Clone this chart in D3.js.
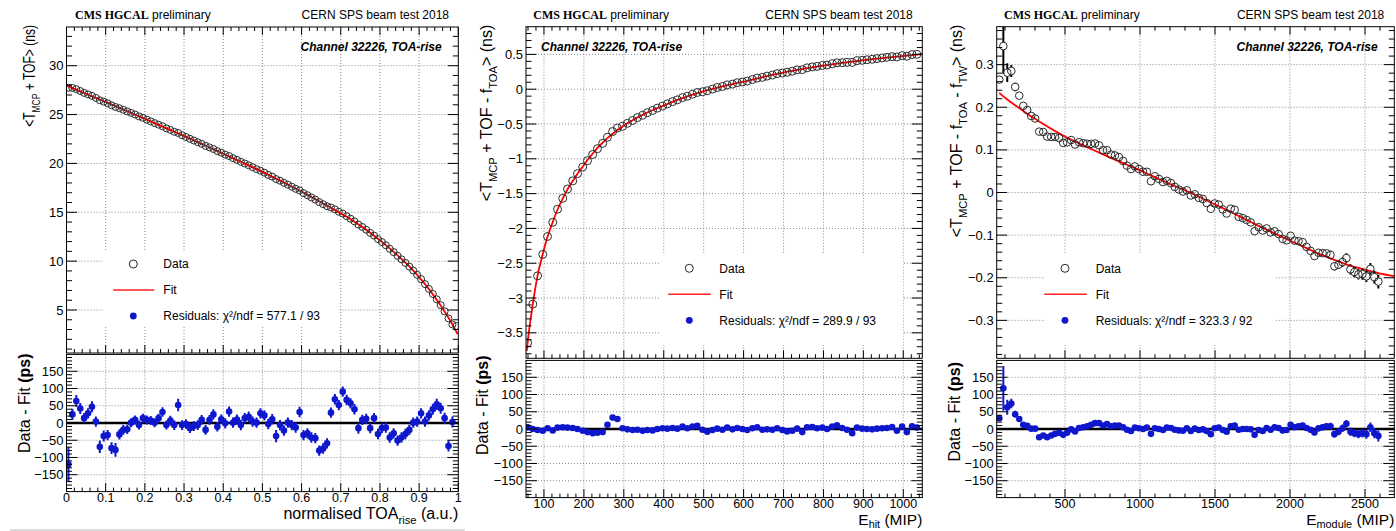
<!DOCTYPE html>
<html>
<head>
<meta charset="utf-8">
<script src="https://cdn.jsdelivr.net/npm/d3@7"></script>
<style>
  html, body { margin: 0; padding: 0; background: #fff; }
  svg { display: block; font-family: "Liberation Sans", Arial, Helvetica, sans-serif; }
</style>
</head>
<body>
<svg id="chart" width="1396" height="531"></svg>
<script>
// ---------------- Panel 1: time vs normalised TOA-rise ----------------
const toaBins = [
  0.005,0.015,0.025,0.035,0.045,0.055,0.065,0.075,0.085,0.095,
  0.105,0.115,0.125,0.135,0.145,0.155,0.165,0.175,0.185,0.195,
  0.205,0.215,0.225,0.235,0.245,0.255,0.265,0.275,0.285,0.295,
  0.305,0.315,0.325,0.335,0.345,0.355,0.365,0.375,0.385,0.395,
  0.405,0.415,0.425,0.435,0.445,0.455,0.465,0.475,0.485,0.495,
  0.505,0.515,0.525,0.535,0.545,0.555,0.565,0.575,0.585,0.595,
  0.605,0.615,0.625,0.635,0.645,0.655,0.665,0.675,0.685,0.695,
  0.705,0.715,0.725,0.735,0.745,0.755,0.765,0.775,0.785,0.795,
  0.805,0.815,0.825,0.835,0.845,0.855,0.865,0.875,0.885,0.895,
  0.905,0.915,0.925,0.935,0.945,0.955,0.965,0.975,0.985,0.995
];
// fitted <T_MCP + TOF> at each bin (ns)
const toaFit = [
  27.867,27.702,27.536,27.370,27.203,27.036,26.868,26.700,26.531,26.362,
  26.193,26.023,25.853,25.682,25.511,25.339,25.167,24.994,24.821,24.648,
  24.474,24.300,24.125,23.950,23.774,23.598,23.421,23.245,23.067,22.889,
  22.711,22.532,22.353,22.173,21.993,21.812,21.631,21.450,21.268,21.086,
  20.903,20.720,20.536,20.352,20.168,19.982,19.796,19.607,19.417,19.224,
  19.031,18.835,18.637,18.438,18.236,18.033,17.829,17.622,17.414,17.203,
  16.991,16.778,16.562,16.345,16.125,15.904,15.681,15.457,15.230,15.002,
  14.774,14.535,14.286,14.029,13.762,13.487,13.202,12.908,12.605,12.292,
  11.971,11.640,11.301,10.952,10.594,10.226,9.850,9.456,9.038,8.597,
  8.132,7.644,7.132,6.597,6.038,5.456,4.850,4.209,3.514,2.767
];
// data - fit (ps)
const toaResid = [
  -120,25,64,42,14,28,47,4,-69,-38,
  -35,-73,-78,-33,-20,-18,1,9,-6,14,
  9,7,1,14,32,-6,7,-6,52,-6,
  -3,-15,-9,-6,9,-20,9,25,-11,11,
  -1,33,1,10,-6,14,18,4,1,28,
  22,-3,11,-38,-6,-22,1,-6,-13,32,
  -35,-30,-42,-44,-80,-74,-59,30,69,52,
  91,67,57,40,-15,9,12,-15,14,-32,
  -15,-13,-42,-30,-51,-42,-32,-20,1,4,
  28,4,22,40,54,43,14,-67,3,600
];
const toaResidErr = [
  50,16,17,16,15,15,16,15,18,16,
  15,17,20,15,14,14,13,13,13,13,
  13,13,13,13,14,13,14,14,18,14,
  14,14,14,14,14,14,14,15,14,14,
  15,15,15,15,15,15,15,15,15,15,
  15,15,15,18,15,15,15,15,15,15,
  15,15,15,15,15,15,15,15,15,15,
  15,15,15,15,16,15,15,15,15,15,
  15,15,15,15,15,15,15,15,15,15,
  15,15,15,16,16,16,16,16,16,16
];
const toaFitStart = [0, 27.95];
const toaFitEnd = [0.998, 2.55];
const toaXTicks = [0, 0.1, 0.2, 0.3, 0.4, 0.5, 0.6, 0.7, 0.8, 0.9, 1];
const toaYTicks = [5, 10, 15, 20, 25, 30];

// ---------------- Panel 2: residual time vs E_hit ----------------
const hitBins = [
  59,72,84,97,109,122,134,147,159,172,
  184,197,209,222,234,247,259,272,284,297,
  309,322,334,347,359,372,384,397,409,422,
  434,447,459,472,484,497,509,522,534,547,
  559,572,584,597,609,622,634,647,659,672,
  684,697,709,722,734,747,759,772,784,797,
  809,822,834,847,859,872,884,897,909,922,
  934,947,959,972,984,997,1009,1022,1034
];
const hitFit = [
  -3.648,-3.088,-2.678,-2.368,-2.118,-1.908,-1.728,-1.573,-1.438,-1.320,
  -1.213,-1.113,-1.018,-0.926,-0.843,-0.769,-0.702,-0.641,-0.586,-0.535,
  -0.489,-0.446,-0.406,-0.369,-0.334,-0.302,-0.272,-0.244,-0.212,-0.182,
  -0.154,-0.128,-0.103,-0.079,-0.056,-0.035,-0.014,0.005,0.024,0.041,
  0.058,0.074,0.090,0.104,0.120,0.137,0.155,0.172,0.189,0.205,
  0.221,0.236,0.251,0.264,0.277,0.290,0.302,0.314,0.326,0.337,
  0.347,0.358,0.368,0.378,0.387,0.397,0.405,0.414,0.423,0.431,
  0.439,0.447,0.455,0.462,0.469,0.476,0.483,0.490,0.497
];
const hitResid = [
  5,0,-3,-5,2,-4,4,5,4,3,
  0,-5,-9,-12,-11,-9,12,33,29,2,
  -1,-3,-2,-5,-3,-4,0,2,1,3,
  1,7,2,7,9,-2,-8,-3,1,-2,
  4,-1,3,0,-3,2,5,-2,-1,-2,
  2,-3,-7,-5,1,-9,5,6,2,4,
  0,7,11,3,-2,-12,4,1,0,-1,
  1,2,3,6,-5,7,-9,8,4
];
const hitFitStart = [57, -3.76];
const hitFitEnd = [1047.6, 0.503];
const hitXTicks = [100, 200, 300, 400, 500, 600, 700, 800, 900, 1000];
const hitYTicks = [-3.5, -3, -2.5, -2, -1.5, -1, -0.5, 0, 0.5];

// ---------------- Panel 3: residual time vs E_module ----------------
const modBins = [
  62,89,115,142,168,195,222,248,275,301,
  328,355,381,408,434,461,488,514,541,567,
  594,621,647,674,700,727,754,780,807,833,
  860,887,913,940,966,993,1020,1046,1073,1099,
  1126,1153,1179,1206,1232,1259,1286,1312,1339,1365,
  1392,1419,1445,1472,1498,1525,1552,1578,1605,1631,
  1658,1685,1711,1738,1764,1791,1818,1844,1871,1897,
  1924,1951,1977,2004,2030,2057,2084,2110,2137,2163,
  2190,2217,2243,2270,2296,2323,2350,2376,2403,2429,
  2456,2483,2509,2536,2562,2589
];
const modFit = [
  0.2340,0.2255,0.2181,0.2111,0.2047,0.1982,0.1913,0.1845,0.1785,0.1728,
  0.1668,0.1609,0.1552,0.1494,0.1442,0.1388,0.1334,0.1286,0.1240,0.1196,
  0.1150,0.1106,0.1065,0.1022,0.0980,0.0937,0.0894,0.0852,0.0810,0.0770,
  0.0730,0.0690,0.0650,0.0610,0.0571,0.0531,0.0488,0.0446,0.0403,0.0362,
  0.0318,0.0275,0.0234,0.0191,0.0152,0.0111,0.0071,0.0032,-0.0010,-0.0052,
  -0.0097,-0.0142,-0.0187,-0.0232,-0.0277,-0.0323,-0.0368,-0.0413,-0.0459,-0.0504,
  -0.0552,-0.0599,-0.0644,-0.0692,-0.0737,-0.0784,-0.0830,-0.0873,-0.0917,-0.0960,
  -0.1005,-0.1049,-0.1092,-0.1136,-0.1178,-0.1221,-0.1264,-0.1306,-0.1349,-0.1391,
  -0.1434,-0.1473,-0.1508,-0.1545,-0.1580,-0.1616,-0.1653,-0.1688,-0.1723,-0.1746,
  -0.1770,-0.1795,-0.1818,-0.1842,-0.1866,-0.1890
];
const modResid = [
  31,118,63,74,43,29,12,9,1,1,
  -24,-19,-24,-19,-14,-11,-17,-11,-1,-7,
  3,5,8,12,17,17,10,14,8,10,
  10,5,-2,-6,4,2,0,4,-14,2,
  0,-3,4,3,-2,-4,-5,2,-6,1,
  -3,-1,-6,-15,2,4,-3,-8,8,10,
  -2,0,0,-1,-17,-3,-6,3,-2,5,
  3,-4,-3,12,5,8,10,3,-2,-10,
  2,5,8,8,-15,-8,2,15,-8,-12,
  -15,-12,-15,5,-12,-20
];
const modResidErr = [
  8,65,22,14,10,9,8,8,7,7,
  7,7,7,7,7,7,7,7,7,7,
  7,7,7,7,7,7,7,7,7,7,
  7,7,7,7,7,7,7,7,7,7,
  7,7,7,7,7,7,7,7,7,7,
  7,7,7,7,7,7,7,7,7,7,
  7,7,7,7,7,7,8,8,8,8,
  8,8,8,8,8,8,8,8,8,8,
  9,9,9,10,10,10,11,11,12,12,
  12,13,13,14,15,16
];
const modFitStart = [62, 0.234];
const modFitEnd = [2695, -0.196];
const modXTicks = [500, 1000, 1500, 2000, 2500];
const modYTicks = [-0.3, -0.2, -0.1, 0, 0.1, 0.2, 0.3];

// ---------------- shared ----------------
const residTicks = [-150, -100, -50, 0, 50, 100, 150];
const residDomain = [-199, 199];
const chiLabels = ["577.1 / 93", "289.9 / 93", "323.3 / 92"];
const headerLeft = "CMS HGCAL";
const headerLeftTail = " preliminary";
const headerRight = "CERN SPS beam test 2018";
const channelLabel = "Channel 32226, TOA-rise";

const SANS = "'Liberation Sans', Arial, Helvetica, sans-serif";
const SERIF = "'Liberation Serif', 'Times New Roman', serif";
const BLUE = "#0f17cc";

const panels = [
  {
    bins: toaBins, fit: toaFit, resid: toaResid, err: toaResidErr,
    fitStart: toaFitStart, fitEnd: toaFitEnd,
    xDomain: [0, 1], yDomain: [0.6, 33.96],
    xTicks: toaXTicks, xMinor: 0.02, yTicks: toaYTicks, yMinor: 1,
    fmtX: d3.format("~g"),
    box: { left: 66.5, right: 458.3, top: 27, upBottom: 353, loTop: 354.4, loBottom: 491.6 },
    xLabelY: 501.5,
    circleR: 3.5,
    yTitle: [{ t: "<T" }, { t: "MCP", sub: true }, { t: " + TOF> (ns)" }],
    yTitleX: 35, yTitleLen: 102,
    loTitleX: 30, loTitleTop: 353.5,
    xTitle: [{ t: "normalised TOA" }, { t: "rise", sub: true }, { t: " (a.u.)" }],
    xTitleY: 519, xTitleSize: 16, xTitleSub: 0.3,
    head: { cmsX: 75, cernX: 449, chanX: 441.7, chanAnchor: "end" },
    legend: { box: [103, 250, 340, 327], markX: 133.3, line: [113.3, 154.3], textX: 163.3, rows: [264, 290, 316] }
  },
  {
    bins: hitBins, fit: hitFit, resid: hitResid, err: null,
    fitStart: hitFitStart, fitEnd: hitFitEnd,
    xDomain: [55, 1047.6], yDomain: [-3.866, 0.898],
    xTicks: hitXTicks, xMinor: 20, yTicks: hitYTicks, yMinor: 0.1,
    fmtX: d3.format("d"),
    box: { left: 526, right: 922.3, top: 26.7, upBottom: 358.3, loTop: 360.4, loBottom: 497.6 },
    xLabelY: 508,
    circleR: 4,
    yTitle: [{ t: "<T" }, { t: "MCP", sub: true }, { t: " + TOF - f" }, { t: "TOA", sub: true }, { t: "> (ns)" }],
    yTitleX: 491.7, yTitleLen: null,
    loTitleX: 488, loTitleTop: 355.5,
    xTitle: [{ t: "E" }, { t: "hit", sub: true }, { t: " (MIP)" }],
    xTitleY: 525, xTitleSize: 15.5, xTitleSub: 0.19,
    head: { cmsX: 533.3, cernX: 912.7, chanX: 541, chanAnchor: "start" },
    legend: { box: [660, 253, 903, 345], markX: 689.3, line: [668.3, 710.7], textX: 719.3, rows: [268.3, 294.3, 320.3] }
  },
  {
    bins: modBins, fit: modFit, resid: modResid, err: modResidErr,
    fitStart: modFitStart, fitEnd: modFitEnd,
    xDomain: [44.7, 2695.3], yDomain: [-0.389, 0.389],
    xTicks: modXTicks, xMinor: 100, yTicks: modYTicks, yMinor: 0.02,
    fmtX: d3.format("d"),
    box: { left: 996.7, right: 1394.3, top: 26.7, upBottom: 358.3, loTop: 360.4, loBottom: 497.6 },
    xLabelY: 508,
    circleR: 3.8,
    yTitle: [{ t: "<T" }, { t: "MCP", sub: true }, { t: " + TOF - f" }, { t: "TOA", sub: true }, { t: " - f" }, { t: "TW", sub: true }, { t: "> (ns)" }],
    yTitleX: 962.3, yTitleLen: null,
    loTitleX: 960, loTitleTop: 362,
    xTitle: [{ t: "E" }, { t: "module", sub: true }, { t: " (MIP)" }],
    xTitleY: 525, xTitleSize: 15.5, xTitleSub: 0.19,
    head: { cmsX: 1004, cernX: 1384.3, chanX: 1377.7, chanAnchor: "end" },
    legend: { box: [1045, 253, 1275, 345], markX: 1065, line: [1044.3, 1086.7], textX: 1095.7, rows: [268.3, 294.3, 320.3] }
  }
];

const svg = d3.select("#chart");
svg.append("rect").attr("width", 1396).attr("height", 531).attr("fill", "#fff");
const defs = svg.append("defs");

// text with subscripts
function rich(sel, parts, size, subRatio = 0.3) {
  let shift = 0;
  parts.forEach(pt => {
    const ts = sel.append("tspan").text(pt.t);
    if (pt.sub) {
      ts.attr("font-size", size * 0.7).attr("dy", size * subRatio - shift);
      shift = size * subRatio;
    } else if (shift) {
      ts.attr("dy", -shift);
      shift = 0;
    }
    if (pt.bold) ts.attr("font-weight", "bold");
  });
}

// evenly spaced minor tick positions inside a domain
function minorTicks(domain, step) {
  const lo = Math.ceil(domain[0] / step - 1e-9), hi = Math.floor(domain[1] / step + 1e-9);
  return d3.range(lo, hi + 1).map(k => +(k * step).toFixed(6));
}

function drawPanel(p, idx) {
  const b = p.box;
  const g = svg.append("g");
  const x = d3.scaleLinear().domain(p.xDomain).range([b.left, b.right]);
  const yU = d3.scaleLinear().domain(p.yDomain).range([b.upBottom, b.top]);
  const yL = d3.scaleLinear().domain(residDomain).range([b.loBottom, b.loTop]);

  const clipU = "clipU" + idx, clipL = "clipL" + idx;
  defs.append("clipPath").attr("id", clipU).append("rect")
    .attr("x", b.left).attr("y", b.top).attr("width", b.right - b.left).attr("height", b.upBottom - b.top);
  defs.append("clipPath").attr("id", clipL).append("rect")
    .attr("x", b.left).attr("y", b.loTop).attr("width", b.right - b.left).attr("height", b.loBottom - b.loTop);

  // ---- grids ----
  const grid = g.append("g").attr("stroke", "#8a8a8a").attr("stroke-width", 1).attr("stroke-dasharray", "1,2");
  const inX = p.xTicks.filter(v => x(v) > b.left + 1 && x(v) < b.right - 1);
  inX.forEach(v => {
    grid.append("line").attr("x1", x(v)).attr("x2", x(v)).attr("y1", b.top).attr("y2", b.upBottom);
    grid.append("line").attr("x1", x(v)).attr("x2", x(v)).attr("y1", b.loTop).attr("y2", b.loBottom);
  });
  p.yTicks.forEach(v => {
    grid.append("line").attr("x1", b.left).attr("x2", b.right).attr("y1", yU(v)).attr("y2", yU(v));
  });
  residTicks.forEach(v => {
    grid.append("line").attr("x1", b.left).attr("x2", b.right).attr("y1", yL(v)).attr("y2", yL(v));
  });

  // ---- legend background ----
  const L = p.legend;
  g.append("rect").attr("x", L.box[0]).attr("y", L.box[1])
    .attr("width", L.box[2] - L.box[0]).attr("height", L.box[3] - L.box[1]).attr("fill", "#fff");

  // ---- zero line in residual pad ----
  g.append("line").attr("x1", b.left).attr("x2", b.right).attr("y1", yL(0)).attr("y2", yL(0))
    .attr("stroke", "#000").attr("stroke-width", 2.6);

  // ---- fit curve ----
  const fitPts = [p.fitStart].concat(p.bins.map((v, i) => [v, p.fit[i]]), [p.fitEnd]);
  g.append("path").attr("clip-path", `url(#${clipU})`)
    .attr("d", d3.line().x(d => x(d[0])).y(d => yU(d[1])).curve(d3.curveMonotoneX)(fitPts))
    .attr("fill", "none").attr("stroke", "#ff0000").attr("stroke-width", 1.8);

  // ---- data points: fit + residual ----
  const data = p.bins.map((v, i) => ({
    x: v, y: p.fit[i] + p.resid[i] / 1000, r: p.resid[i], e: p.err ? p.err[i] : 0
  }));
  const up = g.append("g").attr("clip-path", `url(#${clipU})`);
  const R = p.circleR;
  data.forEach(d => {
    if (d.e > 0) {
      const cy = yU(d.y), top = yU(d.y + d.e / 1000), bot = yU(d.y - d.e / 1000);
      if (cy - R > top) up.append("line").attr("x1", x(d.x)).attr("x2", x(d.x)).attr("y1", top).attr("y2", cy - R)
        .attr("stroke", "#000").attr("stroke-width", 2);
      if (bot > cy + R) up.append("line").attr("x1", x(d.x)).attr("x2", x(d.x)).attr("y1", cy + R).attr("y2", bot)
        .attr("stroke", "#000").attr("stroke-width", 2);
    }
  });
  up.selectAll("circle.data").data(data).join("circle").attr("class", "data")
    .attr("cx", d => x(d.x)).attr("cy", d => yU(d.y)).attr("r", R)
    .attr("fill", "none").attr("stroke", "#2a2a2a").attr("stroke-width", 1);

  // ---- residuals ----
  const lo = g.append("g").attr("clip-path", `url(#${clipL})`);
  data.forEach(d => {
    if (d.e > 0) lo.append("line").attr("x1", x(d.x)).attr("x2", x(d.x))
      .attr("y1", yL(d.r + d.e)).attr("y2", yL(d.r - d.e)).attr("stroke", BLUE).attr("stroke-width", 2);
  });
  lo.selectAll("circle.res").data(data).join("circle").attr("class", "res")
    .attr("cx", d => x(d.x)).attr("cy", d => yL(d.r)).attr("r", 3.3).attr("fill", BLUE);

  // ---- frames ----
  const fr = g.append("g").attr("fill", "none").attr("stroke", "#000").attr("stroke-width", 1);
  fr.append("rect").attr("x", b.left).attr("y", b.top).attr("width", b.right - b.left).attr("height", b.upBottom - b.top);
  fr.append("rect").attr("x", b.left).attr("y", b.loTop).attr("width", b.right - b.left).attr("height", b.loBottom - b.loTop);

  // ---- ticks ----
  const tk = g.append("g").attr("stroke", "#000").attr("stroke-width", 1);
  const xMaj = new Set(p.xTicks.map(v => +v.toFixed(6)));
  const xMin = minorTicks(p.xDomain, p.xMinor);
  xMin.forEach(v => {
    const major = xMaj.has(v);
    const px = x(v);
    const lu = major ? 8 : 4;
    tk.append("line").attr("x1", px).attr("x2", px).attr("y1", b.top).attr("y2", b.top + lu);
    tk.append("line").attr("x1", px).attr("x2", px).attr("y1", b.upBottom).attr("y2", b.upBottom - lu);
    tk.append("line").attr("x1", px).attr("x2", px).attr("y1", b.loBottom).attr("y2", b.loBottom - (major ? 8.5 : 4));
  });
  const yMaj = new Set(p.yTicks.map(v => +v.toFixed(6)));
  minorTicks(p.yDomain, p.yMinor).forEach(v => {
    const major = yMaj.has(v);
    const py = yU(v);
    const l = major ? 10.5 : 5.5;
    tk.append("line").attr("x1", b.left).attr("x2", b.left + l).attr("y1", py).attr("y2", py);
    tk.append("line").attr("x1", b.right).attr("x2", b.right - l).attr("y1", py).attr("y2", py);
  });
  const rMaj = new Set(residTicks);
  minorTicks(residDomain, 10).forEach(v => {
    const major = rMaj.has(v);
    const py = yL(v);
    const l = major ? 11 : 5.5;
    tk.append("line").attr("x1", b.left).attr("x2", b.left + l).attr("y1", py).attr("y2", py);
    tk.append("line").attr("x1", b.right).attr("x2", b.right - l).attr("y1", py).attr("y2", py);
  });

  // ---- tick labels ----
  const lab = g.append("g").attr("font-size", 13).attr("fill", "#000");
  const fmtY = d3.format("~g");
  p.yTicks.forEach(v => {
    lab.append("text").attr("x", b.left - 3).attr("y", yU(v)).attr("dy", "0.35em")
      .attr("text-anchor", "end").text(fmtY(v));
  });
  residTicks.forEach(v => {
    lab.append("text").attr("x", b.left - 3).attr("y", yL(v)).attr("dy", "0.35em")
      .attr("text-anchor", "end").text(fmtY(v));
  });
  p.xTicks.forEach(v => {
    lab.append("text").attr("x", x(v)).attr("y", p.xLabelY).attr("font-size", 12.5)
      .attr("text-anchor", "middle").text(p.fmtX(v));
  });

  // ---- axis titles ----
  const yt = g.append("g");
  const ytText = yt.append("text").attr("font-size", 16).attr("text-anchor", "end");
  rich(ytText, p.yTitle, 16);
  let sx = 1;
  if (p.yTitleLen) sx = p.yTitleLen / ytText.node().getComputedTextLength();
  yt.attr("transform", `translate(${p.yTitleX},${b.top - 2}) rotate(-90) scale(${sx},1)`);

  const lt = g.append("text").attr("font-size", 16).attr("text-anchor", "end")
    .attr("transform", `translate(${p.loTitleX},${p.loTitleTop}) rotate(-90)`);
  rich(lt, [{ t: "Data - Fit " }, { t: "(ps)", bold: true }], 16);

  const xt = g.append("text").attr("font-size", p.xTitleSize).attr("text-anchor", "end")
    .attr("x", b.right).attr("y", p.xTitleY);
  rich(xt, p.xTitle, p.xTitleSize, p.xTitleSub);

  // ---- header texts ----
  const H = p.head;
  const cms = g.append("text").attr("x", H.cmsX).attr("y", 18.5).attr("font-size", 12);
  cms.append("tspan").attr("font-family", SERIF).attr("font-weight", "bold").text(headerLeft);
  cms.append("tspan").attr("font-family", SANS).text(headerLeftTail);
  g.append("text").attr("x", H.cernX).attr("y", 18.5).attr("font-size", 12)
    .attr("text-anchor", "end").text(headerRight);
  g.append("text").attr("x", H.chanX).attr("y", 51).attr("font-size", 12)
    .attr("font-weight", "bold").attr("font-style", "italic")
    .attr("text-anchor", H.chanAnchor).text(channelLabel);

  // ---- legend entries ----
  g.append("circle").attr("cx", L.markX).attr("cy", L.rows[0]).attr("r", 4)
    .attr("fill", "none").attr("stroke", "#2a2a2a").attr("stroke-width", 1);
  g.append("line").attr("x1", L.line[0]).attr("x2", L.line[1]).attr("y1", L.rows[1]).attr("y2", L.rows[1])
    .attr("stroke", "#ff2020").attr("stroke-width", 1.6);
  g.append("circle").attr("cx", L.markX).attr("cy", L.rows[2]).attr("r", 3.4).attr("fill", BLUE);
  const lg = g.append("g").attr("font-size", 12);
  lg.append("text").attr("x", L.textX).attr("y", L.rows[0] + 4.3).text("Data");
  lg.append("text").attr("x", L.textX).attr("y", L.rows[1] + 4.3).text("Fit");
  lg.append("text").attr("x", L.textX).attr("y", L.rows[2] + 4.3)
    .text("Residuals: \u03C7\u00B2/ndf = " + chiLabels[idx]);
}

panels.forEach(drawPanel);

// separator under the first canvas
svg.append("line").attr("x1", 10).attr("x2", 465).attr("y1", 530).attr("y2", 530)
  .attr("stroke", "#cfcfcf").attr("stroke-width", 1.5);
</script>
</body>
</html>
